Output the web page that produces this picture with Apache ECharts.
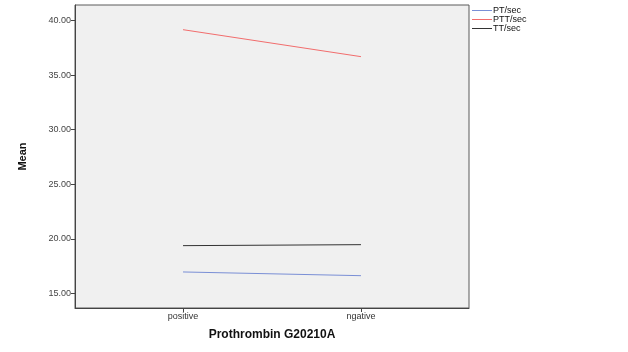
<!DOCTYPE html>
<html><head><meta charset="utf-8">
<script src="https://cdn.jsdelivr.net/npm/echarts@6/dist/echarts.min.js"></script>
<style>html,body{margin:0;padding:0;background:#fff}#c{width:628px;height:352px}</style>
</head><body><div id="c"></div>
<script>
const categories = ['positive', 'ngative'];
const ptValues = [16.97, 16.63];
const pttValues = [39.16, 36.69];
const ttValues = [19.38, 19.47];
const yTicks = [15, 20, 25, 30, 35, 40];
const seriesNames = ['PT/sec', 'PTT/sec', 'TT/sec'];

const chart = echarts.init(document.getElementById('c'), null, {renderer: 'canvas'});
const toPts = vals => vals.map((v, i) => [i, v]);
const font = 'Arial, "Liberation Sans", sans-serif';
chart.setOption({
  animation: false,
  backgroundColor: '#ffffff',
  grid: {left: 75, right: 159, top: 5, bottom: 44, show: true, backgroundColor: '#f0f0f0', borderColor: '#5a5a5a', borderWidth: 1},
  legend: {
    orient: 'vertical', left: 467, top: 1, itemWidth: 20, itemHeight: 1, itemGap: 0, icon: 'rect',
    textStyle: {fontSize: 9, fontFamily: font, color: '#111', padding: [0, 0, 0, -4]},
    data: seriesNames
  },
  xAxis: {
    type: 'value', min: -0.607, max: 1.607,
    splitLine: {show: false},
    axisLine: {show: true, onZero: false, lineStyle: {color: '#444'}},
    axisTick: {show: true, length: 4, lineStyle: {color: '#444'}, customValues: [0, 1]},
    axisLabel: {fontSize: 9, fontFamily: font, color: '#333', margin: 4, customValues: [0, 1], formatter: v => categories[Math.round(v)] || ''},
    name: 'Prothrombin G20210A', nameLocation: 'middle', nameGap: 21,
    nameTextStyle: {fontSize: 12, fontWeight: 'bold', fontFamily: font, color: '#111'}
  },
  yAxis: {
    type: 'value', min: 13.67, max: 41.42,
    splitLine: {show: false},
    axisLine: {show: true, onZero: false, lineStyle: {color: '#444'}},
    axisTick: {show: true, length: 4, lineStyle: {color: '#444'}, customValues: yTicks},
    axisLabel: {fontSize: 9, fontFamily: font, color: '#444', margin: 4, customValues: yTicks, formatter: v => v.toFixed(2)},
    name: 'Mean', nameLocation: 'middle', nameGap: 47, nameRotate: 90,
    nameTextStyle: {fontSize: 11, fontWeight: 'bold', fontFamily: font, color: '#111'}
  },
  series: [
    {name: seriesNames[0], type: 'line', data: toPts(ptValues), symbol: 'none', lineStyle: {color: '#7a8fd6', width: 1}, itemStyle: {color: '#7a8fd6'}},
    {name: seriesNames[1], type: 'line', data: toPts(pttValues), symbol: 'none', lineStyle: {color: '#f26d6d', width: 1}, itemStyle: {color: '#f26d6d'}},
    {name: seriesNames[2], type: 'line', data: toPts(ttValues), symbol: 'none', lineStyle: {color: '#333333', width: 1}, itemStyle: {color: '#333333'}}
  ]
});
</script></body></html>
